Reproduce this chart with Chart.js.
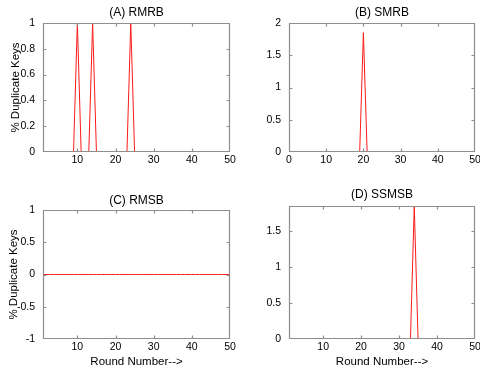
<!DOCTYPE html>
<html><head><meta charset="utf-8">
<script src="https://cdn.jsdelivr.net/npm/chart.js@4/dist/chart.umd.min.js"></script>
<style>
html,body{margin:0;padding:0;background:#fff;}
body{width:480px;height:372px;overflow:hidden;position:relative;}
.box{position:absolute;width:240px;height:186px;}
canvas{display:block;}
</style></head><body>
<div class="box" style="left:0;top:0"><canvas id="cA" width="240" height="186"></canvas></div>
<div class="box" style="left:240px;top:0"><canvas id="cB" width="240" height="186"></canvas></div>
<div class="box" style="left:0;top:186px"><canvas id="cC" width="240" height="186"></canvas></div>
<div class="box" style="left:240px;top:186px"><canvas id="cD" width="240" height="186"></canvas></div>
<script>
// ---- data ----
const rounds = [1,2,3,4,5,6,7,8,9,10,11,12,13,14,15,16,17,18,19,20,21,22,23,24,25,
                26,27,28,29,30,31,32,33,34,35,36,37,38,39,40,41,42,43,44,45,46,47,48,49,50];
const rmrb  = [0,0,0,0,0,0,0,0,0,1,0,0,0,1,0,0,0,0,0,0,0,0,0,1,0,
               0,0,0,0,0,0,0,0,0,0,0,0,0,0,0,0,0,0,0,0,0,0,0,0,0];
const smrb  = [0,0,0,0,0,0,0,0,0,0,0,0,0,0,0,0,0,0,0,1.85,0,0,0,0,0,
               0,0,0,0,0,0,0,0,0,0,0,0,0,0,0,0,0,0,0,0,0,0,0,0,0];
const rmsb  = [0,0,0,0,0,0,0,0,0,0,0,0,0,0,0,0,0,0,0,0,0,0,0,0,0,
               0,0,0,0,0,0,0,0,0,0,0,0,0,0,0,0,0,0,0,0,0,0,0,0,0];
const ssmsb = [0,0,0,0,0,0,0,0,0,0,0,0,0,0,0,0,0,0,0,0,0,0,0,0,0,
               0,0,0,0,0,0,0,0,1.85,0,0,0,0,0,0,0,0,0,0,0,0,0,0,0,0];
const titles = ['(A) RMRB','(B) SMRB','(C) RMSB','(D) SSMSB'];
const yLabel = '% Duplicate Keys';
const xLabel = 'Round Number-->';
const xTicksA = [10,20,30,40,50];
const xTicksB = [0,10,20,30,40,50];
const yTicksA = [0,0.2,0.4,0.6,0.8,1];
const yTicksB = [0,0.5,1,1.5,2];
const yTicksC = [-1,-0.5,0,0.5,1];
const yTicksD = [0,0.5,1,1.5];

const FONT = 'Liberation Sans, Arial, Helvetica, sans-serif';

const matlabBox = {
  id: 'matlabBox',
  afterDraw(chart) {
    const {ctx, chartArea: a, scales: {x, y}} = chart;
    const L = Math.round(a.left) + 0.5, R = Math.round(a.right) - 0.5;
    const T = Math.round(a.top) + 0.5, B = Math.round(a.bottom) - 0.5;
    ctx.save();
    ctx.strokeStyle = '#8e8e8e';
    ctx.lineWidth = 1.2;
    ctx.beginPath();
    ctx.rect(L, T, R - L, B - T);
    x.ticks.forEach(t => {
      const px = Math.round(x.getPixelForValue(t.value)) + 0.5;
      if (px <= L + 1 || px >= R - 1) return;
      ctx.moveTo(px, B); ctx.lineTo(px, B - 3);
      ctx.moveTo(px, T); ctx.lineTo(px, T + 3);
    });
    y.ticks.forEach(t => {
      const py = Math.round(y.getPixelForValue(t.value)) + 0.5;
      if (py <= T + 1 || py >= B - 1) return;
      ctx.moveTo(L, py); ctx.lineTo(L + 3, py);
      ctx.moveTo(R, py); ctx.lineTo(R - 3, py);
    });
    ctx.stroke();
    ctx.restore();
  }
};

function fmt(v) { return String(+Number(v).toFixed(2)); }

function makeChart(id, values, o) {
  new Chart(document.getElementById(id), {
    type: 'line',
    data: {
      datasets: [{
        data: rounds.map((r, i) => ({x: r, y: values[i]})),
        borderColor: '#ff1a1a', borderWidth: 1, pointRadius: 0, tension: 0, fill: false,
        borderCapStyle: 'butt'
      }]
    },
    plugins: [matlabBox],
    options: {
      responsive: false, animation: false, events: [],
      layout: {padding: {left: 0, right: o.padRight, top: 0, bottom: 0}},
      plugins: {
        legend: {display: false}, tooltip: {enabled: false},
        title: {
          display: true, text: o.title, color: '#000', fullSize: false,
          font: {family: FONT, size: 12, weight: 'normal', lineHeight: 1.2},
          padding: {top: o.tTop, bottom: o.tBottom}
        }
      },
      scales: {
        x: {
          type: 'linear', min: o.xmin, max: 50,
          afterBuildTicks(s) { s.ticks = o.xTicks.map(v => ({value: v})); },
          afterFit(s) { s.height = o.xH; s.paddingLeft = 0; s.paddingRight = 0; },
          grid: {display: false, drawTicks: false}, border: {display: false},
          ticks: {color: '#000', padding: 2, maxRotation: 0, autoSkip: false,
                  font: {family: FONT, size: 10.5}, callback: fmt},
          title: {display: !!o.xTitle, text: xLabel, color: '#000',
                  font: {family: FONT, size: 11.5}, padding: {top: 0, bottom: 3}}
        },
        y: {
          type: 'linear', min: o.ymin, max: o.ymax,
          afterBuildTicks(s) { s.ticks = o.yTicks.map(v => ({value: v})); },
          afterFit(s) { s.width = o.yW; s.paddingTop = 0; s.paddingBottom = 0; },
          grid: {display: false, drawTicks: false}, border: {display: false},
          ticks: {color: '#000', padding: 8, autoSkip: false,
                  font: {family: FONT, size: 10.5}, callback: fmt},
          title: {display: !!o.yTitle, text: yLabel, color: '#000',
                  font: {family: FONT, size: 11.5}, padding: {top: o.yTPad, bottom: 0}}
        }
      }
    }
  });
}

makeChart('cA', rmrb,  {title: titles[0], xmin: 1, ymin: 0, ymax: 1,    xTicks: xTicksA, yTicks: yTicksA,
  padRight: 10, yW: 43, xH: 34, tTop: 5.5, tBottom: 3.1, yTitle: true, yTPad: 9, xTitle: false});
makeChart('cB', smrb,  {title: titles[1], xmin: 0, ymin: 0, ymax: 2,    xTicks: xTicksB, yTicks: yTicksB,
  padRight: 5, yW: 49, xH: 34, tTop: 5.5, tBottom: 3.1, yTitle: false, yTPad: 0, xTitle: false});
makeChart('cC', rmsb,  {title: titles[2], xmin: 1, ymin: -1, ymax: 1,   xTicks: xTicksA, yTicks: yTicksC,
  padRight: 10, yW: 43, xH: 33, tTop: 7.8, tBottom: 1.8, yTitle: true, yTPad: 7, xTitle: true});
makeChart('cD', ssmsb, {title: titles[3], xmin: 1, ymin: 0, ymax: 1.85, xTicks: xTicksA, yTicks: yTicksD,
  padRight: 5, yW: 49, xH: 33, tTop: 1.1, tBottom: 4.5, yTitle: false, yTPad: 0, xTitle: true});
</script>
</body></html>
